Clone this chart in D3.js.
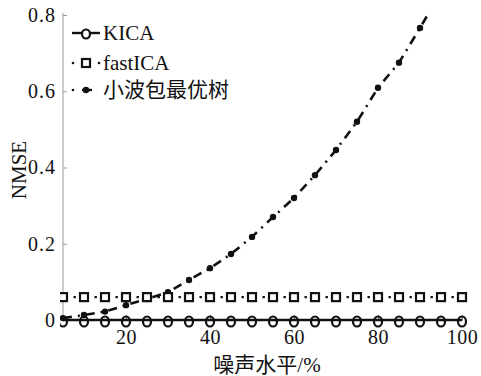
<!DOCTYPE html>
<html><head><meta charset="utf-8">
<script src="https://cdn.jsdelivr.net/npm/d3@7"></script>
<style>
html,body{margin:0;padding:0;background:#fff;}
svg{display:block;}
text{font-family:"Liberation Serif","Noto Sans CJK SC",serif;fill:#111;}
</style></head>
<body>
<svg id="c" width="481" height="376"></svg>
<script>
const noise = [5,10,15,20,25,30,35,40,45,50,55,60,65,70,75,80,85,90,95,100];
const kica = [0,0,0,0,0,0,0,0,0,0,0,0,0,0,0,0,0,0,0,0];
const fastica = [0.06,0.06,0.06,0.06,0.06,0.06,0.06,0.06,0.06,0.06,0.06,0.06,0.06,0.06,0.06,0.06,0.06,0.06,0.06,0.06];
const wavelet = [0.005,0.013,0.022,0.039,0.055,0.073,0.105,0.136,0.173,0.218,0.27,0.32,0.38,0.446,0.52,0.609,0.675,0.766,0.86,0.95];
const xTicks = [20,40,60,80,100];
const yTicks = [0,0.2,0.4,0.6,0.8];
const yTickLabels = ["0","0.2","0.4","0.6","0.8"];
const seriesNames = ["KICA","fastICA","小波包最优树"];

const svg = d3.select("#c");
const x = d3.scaleLinear().domain([5,100]).range([63,462]);
const y = d3.scaleLinear().domain([0,0.8]).range([320,15]);

svg.append("defs").append("clipPath").attr("id","clip")
  .append("rect").attr("x",60).attr("y",12).attr("width",410).attr("height",320);

// left axis
const yAxis = d3.axisLeft(y).tickValues(yTicks).tickSize(-4).tickPadding(7)
  .tickFormat((d,i)=>yTickLabels[i]);
const gy = svg.append("g").attr("transform","translate(63,0)").call(yAxis);
gy.attr("font-family",null);
gy.select(".domain").attr("stroke","#999").attr("d","M0,13V320");
gy.selectAll(".tick line").attr("stroke","#999");
gy.selectAll(".tick text").attr("font-size",20).attr("letter-spacing","1px").attr("fill","#111");

// bottom axis
const xAxis = d3.axisBottom(x).tickValues(xTicks).tickSize(-5).tickPadding(10);
const gx = svg.append("g").attr("transform","translate(0,320)").call(xAxis);
gx.attr("font-family",null);
gx.select(".domain").attr("stroke","#999");
gx.selectAll(".tick line").attr("stroke","#777");
gx.selectAll(".tick text").attr("font-size",20).attr("letter-spacing","0.5px").attr("fill","#111");

const plot = svg.append("g").attr("clip-path","url(#clip)");
const line = d3.line().x((d,i)=>x(noise[i])).y(d=>y(d));

// wavelet
plot.append("path").datum(wavelet).attr("d",line).attr("fill","none")
  .attr("stroke","#111").attr("stroke-width",2.6).attr("stroke-dasharray","9,6,2,6");
plot.selectAll(".wm").data(wavelet).enter().append("circle")
  .attr("cx",(d,i)=>x(noise[i])).attr("cy",d=>y(d)).attr("r",3.2).attr("fill","#111");

// fastICA
plot.append("path").datum(fastica).attr("d",line).attr("fill","none")
  .attr("stroke","#111").attr("stroke-width",2.4).attr("stroke-dasharray","2.4,8.1");
plot.selectAll(".fm").data(fastica).enter().append("rect")
  .attr("x",(d,i)=>x(noise[i])-4).attr("y",d=>y(d)-4).attr("width",8).attr("height",8)
  .attr("fill","#fff").attr("stroke","#111").attr("stroke-width",2.2);

// KICA
plot.append("path").datum(kica).attr("d",line).attr("fill","none")
  .attr("stroke","#111").attr("stroke-width",2.4);
plot.selectAll(".km").data(kica).enter().append("ellipse")
  .attr("cx",(d,i)=>x(noise[i])).attr("cy",d=>y(d)+1.5).attr("rx",4).attr("ry",5)
  .attr("fill","none").attr("stroke","#111").attr("stroke-width",2.2);

// legend
const lg = svg.append("g");
const rows = [33,63,90];
// KICA
lg.append("line").attr("x1",72).attr("x2",100).attr("y1",rows[0]).attr("y2",rows[0]).attr("stroke","#111").attr("stroke-width",2.4);
lg.append("ellipse").attr("cx",86).attr("cy",rows[0]+1).attr("rx",4).attr("ry",4.5).attr("fill","#fff").attr("stroke","#111").attr("stroke-width",2.2);
// fastICA
lg.append("circle").attr("cx",73).attr("cy",rows[1]).attr("r",1.3).attr("fill","#111");
lg.append("circle").attr("cx",99).attr("cy",rows[1]).attr("r",1.3).attr("fill","#111");
lg.append("rect").attr("x",82).attr("y",rows[1]-4).attr("width",8).attr("height",8).attr("fill","#fff").attr("stroke","#111").attr("stroke-width",2.2);
// wavelet
lg.append("circle").attr("cx",73).attr("cy",rows[2]).attr("r",1.3).attr("fill","#111");
lg.append("line").attr("x1",82).attr("x2",92).attr("y1",rows[2]).attr("y2",rows[2]).attr("stroke","#111").attr("stroke-width",2.4);
lg.append("circle").attr("cx",86).attr("cy",rows[2]).attr("r",3.2).attr("fill","#111");
lg.selectAll(".lt").data(seriesNames).enter().append("text")
  .attr("x",103).attr("y",(d,i)=>rows[i]+7).attr("font-size",21).text(d=>d);

// axis titles
svg.append("text").attr("x",267).attr("y",372).attr("text-anchor","middle").attr("font-size",21).text("噪声水平/%");
svg.append("text").attr("transform","translate(26,170) rotate(-90)").attr("text-anchor","middle").attr("font-size",21).text("NMSE");
</script>
</body></html>
